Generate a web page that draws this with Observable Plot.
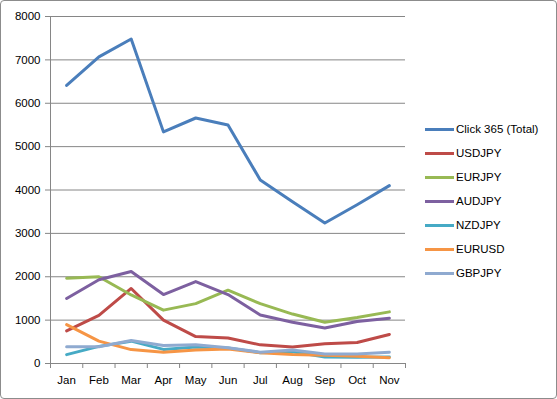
<!DOCTYPE html>
<html>
<head>
<meta charset="utf-8">
<script src="https://cdn.jsdelivr.net/npm/d3@7"></script>
<script src="https://cdn.jsdelivr.net/npm/@observablehq/plot@0.6"></script>
<style>
  html, body { margin: 0; padding: 0; background: #fff; }
  #chart { position: relative; width: 555px; height: 397px; border: 1px solid #8c8c8c; border-radius: 4px; overflow: hidden; font-family: Tahoma, "DejaVu Sans", sans-serif; }
  #plot { position: absolute; left: -1px; top: -1px; }
  #legend { position: absolute; left: 424px; top: 116px; font-family: Tahoma, "Liberation Sans", Arial, sans-serif; font-size: 11.5px; color: #000; }
  .item { display: flex; align-items: center; height: 24px; }
  .swatch { width: 29px; height: 3px; margin-right: 2px; }
</style>
</head>
<body>
<div id="chart"><div id="plot"></div><div id="legend"></div></div>
<script>
const months = ["Jan","Feb","Mar","Apr","May","Jun","Jul","Aug","Sep","Oct","Nov"];
const yTicks = [0,1000,2000,3000,4000,5000,6000,7000,8000];
const seriesNames = ["Click 365 (Total)","USDJPY","EURJPY","AUDJPY","NZDJPY","EURUSD","GBPJPY"];
const seriesColors = ["#4A7EBB","#BE4B48","#98B954","#7D60A0","#46AAC5","#F69545","#8FAAD0"];
const click365 = [6410,7070,7480,5340,5660,5500,4230,3730,3240,3660,4100];
const usdjpy = [750,1110,1730,1000,620,590,430,380,455,485,670];
const eurjpy = [1965,2000,1580,1230,1380,1690,1380,1140,950,1060,1190];
const audjpy = [1500,1930,2120,1590,1890,1590,1120,950,820,970,1045];
const nzdjpy = [205,395,515,325,380,355,250,270,150,145,150];
const eurusd = [895,515,320,260,310,335,250,210,190,165,135];
const gbpjpy = [385,385,530,415,430,365,260,310,220,220,260];

const seriesValues = [click365, usdjpy, eurjpy, audjpy, nzdjpy, eurusd, gbpjpy];
const data = [];
seriesNames.forEach((name, s) => {
  seriesValues[s].forEach((v, i) => data.push({series: name, i: i + 0.5, value: v}));
});
// draw order: total first then others (last drawn on top)
const drawOrder = [0,1,2,3,4,5,6];

const plot = Plot.plot({
  width: 415,
  height: 399,
  marginLeft: 50,
  marginRight: 10,
  marginTop: 16,
  marginBottom: 36,
  style: {fontFamily: "Tahoma, 'Liberation Sans', Arial, sans-serif", fontSize: "11.5px", color: "#000", background: "transparent"},
  x: {type: "linear", domain: [0, months.length], ticks: months.map((_, i) => i + 0.5), tickFormat: d => months[Math.round(d - 0.5)], tickSize: 0, tickPadding: 12, label: null},
  y: {domain: [0, 8000], ticks: yTicks, tickSize: 5, tickPadding: 5, tickFormat: d => String(d), label: null},
  marks: [
    Plot.ruleY(yTicks, {stroke: "#868686", strokeWidth: 1}),
    Plot.ruleX([0], {stroke: "#868686", strokeWidth: 1, insetBottom: -5}),
    Plot.ruleX(d3.range(months.length + 1), {y1: 0, y2: 0, insetBottom: -5, stroke: "#868686"}),
    ...drawOrder.map(s => Plot.line(data.filter(d => d.series === seriesNames[s]), {
      x: "i", y: "value", stroke: seriesColors[s], strokeWidth: 3, strokeLinejoin: "round", strokeLinecap: "round"
    }))
  ]
});
plot.querySelectorAll("[aria-label='y-axis tick'] path, [aria-label='y-axis'] path").forEach(p => p.setAttribute("stroke", "#868686"));
document.getElementById("plot").appendChild(plot);

const legend = document.getElementById("legend");
seriesNames.forEach((name, s) => {
  const item = document.createElement("div");
  item.className = "item";
  const sw = document.createElement("span");
  sw.className = "swatch";
  sw.style.background = seriesColors[s];
  const t = document.createElement("span");
  t.textContent = name;
  item.appendChild(sw); item.appendChild(t);
  legend.appendChild(item);
});
</script>
</body>
</html>
